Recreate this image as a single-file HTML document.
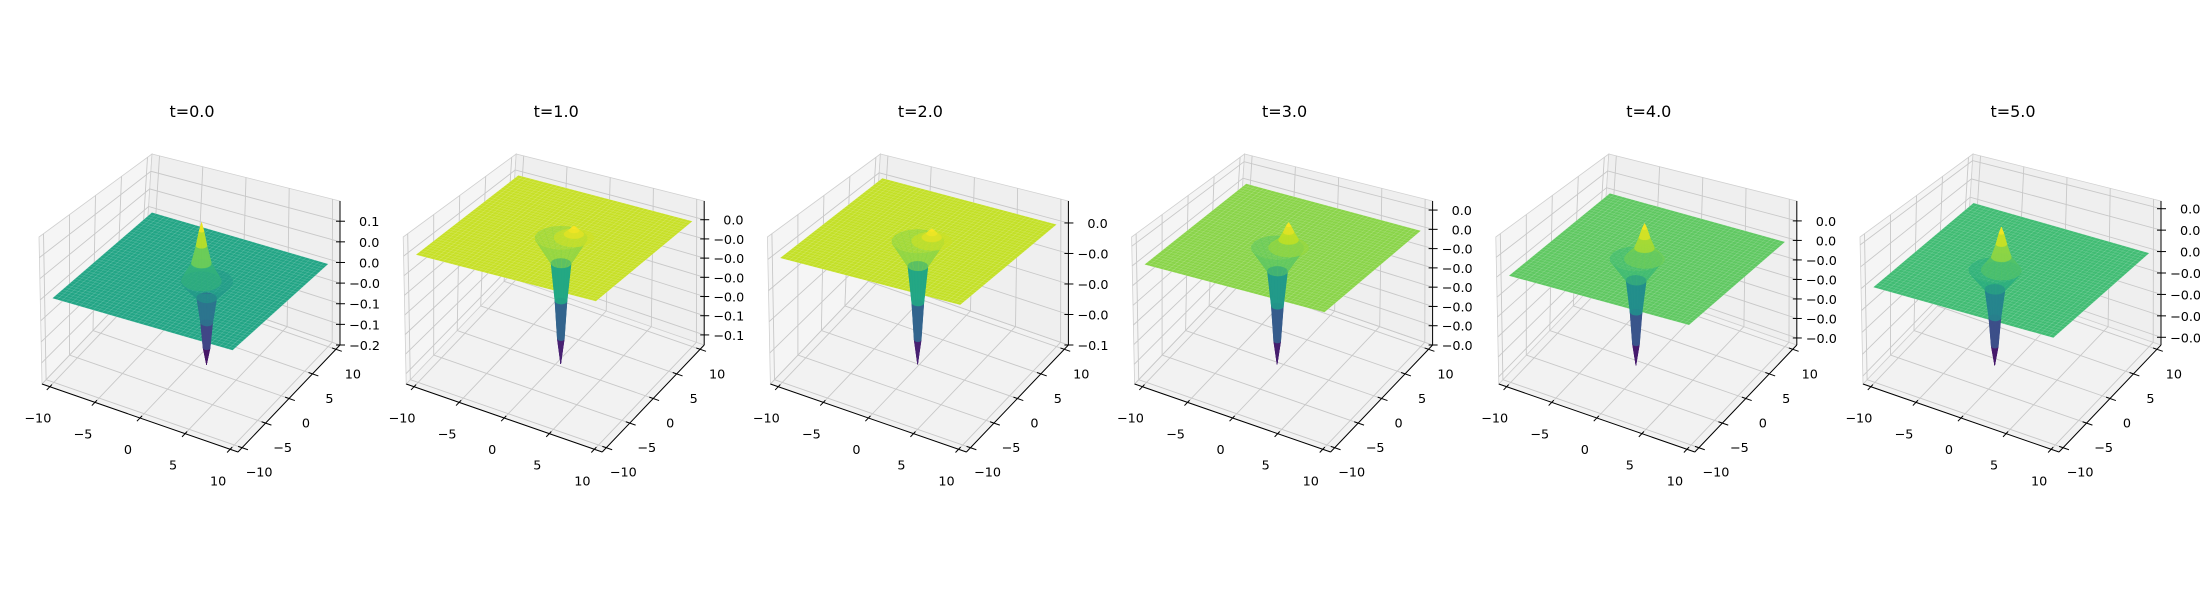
<!DOCTYPE html>
<html><head><meta charset="utf-8"><style>
html,body{margin:0;padding:0;background:#fff;}
svg{display:block;font-family:"DejaVu Sans","Liberation Sans",sans-serif;}
</style></head>
<body>
<svg id="fig" width="2200" height="600" viewBox="0 0 2200 600" xmlns="http://www.w3.org/2000/svg">
<rect x="0" y="0" width="2200" height="600" fill="#fff"/>
</svg>
<script>
const times=[0,1,2,3,4,5];
const zMin=[-0.2,-0.1305,-0.1,-0.06,-0.0268,-0.0109];
const zMax=[0.149,0.0195,0.018,0.0147,0.0101,0.0059];
const zTicks=[[0.1,0.05,0,-0.05,-0.1,-0.15,-0.2],[0,-0.02,-0.04,-0.06,-0.08,-0.1,-0.12],[0,-0.025,-0.05,-0.075,-0.1],[0.01,0,-0.01,-0.02,-0.03,-0.04,-0.05,-0.06],[0.005,0,-0.005,-0.01,-0.015,-0.02,-0.025],[0.005,0.0025,0,-0.0025,-0.005,-0.0075,-0.01]];
const zTickLabels=[["0.10","0.05","0.00","−0.05","−0.10","−0.15","−0.20"],["0.00","−0.02","−0.04","−0.06","−0.08","−0.10","−0.12"],["0.000","−0.025","−0.050","−0.075","−0.100"],["0.01","0.00","−0.01","−0.02","−0.03","−0.04","−0.05","−0.06"],["0.005","0.000","−0.005","−0.010","−0.015","−0.020","−0.025"],["0.0050","0.0025","0.0000","−0.0025","−0.0050","−0.0075","−0.0100"]];
const xyTicks=[-10,-5,0,5,10];
const xyTickLabels=["−10","−5","0","5","10"];
const planeZ=[0,0,0,0,0,0];
const peakZ=[0.14,0.012,0.01,0.013,0.009,0.005];
const troughZ=[-0.2,-0.13,-0.1,-0.06,-0.027,-0.011];
const troughX=[1.3,0.46,-0.15,-0.54,-1.0,-1.45];
const troughY=[0.8,0.29,-0.1,-0.34,-0.62,-0.9];
const peakX=[0.84,1.53,1.0,0.38,-0.31,-0.92];
const peakY=[0.53,0.96,0.62,0.24,-0.19,-0.58];

const NS="http://www.w3.org/2000/svg";
const fig=document.getElementById('fig');
const M=0.04;
const CB={L:[-148,384],F:[48,452],R:[150,345],B:[-46,277]};
const CT={L:[-151,237],F:[45,285],R:[150,201],B:[-38,154]};
const VIR=["#440154","#482475","#414487","#355f8d","#2a788e","#21918c","#22a884","#44bf70","#7ad151","#bddf26","#fde725"];
function hx(c){return [parseInt(c.slice(1,3),16),parseInt(c.slice(3,5),16),parseInt(c.slice(5,7),16)];}
function viridis(t){t=Math.max(0,Math.min(1,t));const s=t*10,i=Math.min(9,Math.floor(s)),f=s-i;const a=hx(VIR[i]),b=hx(VIR[i+1]);return 'rgb('+a.map((v,k)=>Math.round(v+(b[k]-v)*f)).join(',')+')';}
function mk(tag,attrs,parent){const e=document.createElementNS(NS,tag);for(const k in attrs)e.setAttribute(k,attrs[k]);(parent||fig).appendChild(e);return e;}
function bil(C,u,v){return [(1-u)*(1-v)*C.L[0]+u*(1-v)*C.F[0]+u*v*C.R[0]+(1-u)*v*C.B[0],(1-u)*(1-v)*C.L[1]+u*(1-v)*C.F[1]+u*v*C.R[1]+(1-u)*v*C.B[1]];}
function P(tc,u,v,w){const b=bil(CB,u,v),t=bil(CT,u,v);return [tc+b[0]+(t[0]-b[0])*w,b[1]+(t[1]-b[1])*w];}
function pts(a){return a.map(p=>p[0].toFixed(1)+','+p[1].toFixed(1)).join(' ');}

times.forEach((tm,i)=>{
  const left=15+364.2*i, tc=left+175;
  const zmn=zMin[i], zmx=zMax[i];
  const uOf=x=>M+(x+10)/20*(1-2*M);
  const wOf=z=>(z-zmn)/(zmx-zmn);
  const D=(x,y,z)=>P(tc,uOf(x),uOf(y),wOf(z));
  const g=mk('g',{});
  
  
  const bg=mk('rect',{x:left,y:0,width:364.2,height:600,fill:'#fff'},g);
  
  
  const tt=mk('text',{x:tc+2,y:117,'text-anchor':'middle','font-size':16,fill:'#000'},g);
  tt.textContent='t='+tm.toFixed(1);
  
  
  const fl=mk('polygon',{points:pts([P(tc,0,0,0),P(tc,1,0,0),P(tc,1,1,0),P(tc,0,1,0)]),fill:'#f2f2f2',stroke:'#d0d0d0','stroke-width':0.8},g);
  
  
  const lw=mk('polygon',{points:pts([P(tc,0,0,0),P(tc,0,1,0),P(tc,0,1,1),P(tc,0,0,1)]),fill:'#f5f5f5',stroke:'#d0d0d0','stroke-width':0.8},g);
  
  
  const bw=mk('polygon',{points:pts([P(tc,0,1,0),P(tc,1,1,0),P(tc,1,1,1),P(tc,0,1,1)]),fill:'#efefef',stroke:'#d0d0d0','stroke-width':0.8},g);
  
  
  const gc='#c8c8c8';
  xyTicks.forEach(t=>{const u=uOf(t);
    mk('polyline',{points:pts([P(tc,u,0,0),P(tc,u,1,0),P(tc,u,1,1)]),fill:'none',stroke:gc,'stroke-width':0.9},g);
    mk('polyline',{points:pts([P(tc,1,u,0),P(tc,0,u,0),P(tc,0,u,1)]),fill:'none',stroke:gc,'stroke-width':0.9},g);
  });
  zTicks[i].forEach(z=>{const w=wOf(z);
    mk('polyline',{points:pts([P(tc,0,0,w),P(tc,0,1,w),P(tc,1,1,w)]),fill:'none',stroke:gc,'stroke-width':0.9},g);
  });
  const xa=mk('line',{x1:P(tc,0,0,0)[0],y1:P(tc,0,0,0)[1],x2:P(tc,1,0,0)[0],y2:P(tc,1,0,0)[1],stroke:'#000','stroke-width':1},g);
  
  
  const ya=mk('line',{x1:P(tc,1,0,0)[0],y1:P(tc,1,0,0)[1],x2:P(tc,1,1,0)[0],y2:P(tc,1,1,0)[1],stroke:'#000','stroke-width':1},g);
  
  
  const za=mk('line',{x1:P(tc,1,1,0)[0],y1:P(tc,1,1,0)[1],x2:P(tc,1,1,1)[0],y2:P(tc,1,1,1)[1],stroke:'#000','stroke-width':1},g);
  
  
  xyTicks.forEach((t,k)=>{const u=uOf(t);
    const a=P(tc,u,0.02,0),b=P(tc,u,-0.03,0);
    mk('line',{x1:a[0],y1:a[1],x2:b[0],y2:b[1],stroke:'#000','stroke-width':1},g);
    const p=P(tc,u,0,0);
    const lx=mk('text',{x:p[0]-12,y:p[1]+36,'text-anchor':'middle','font-size':12.8,fill:'#000'},g);
    lx.textContent=xyTickLabels[k];
    
    
    const c=P(tc,0.98,u,0),d=P(tc,1.03,u,0);
    mk('line',{x1:c[0],y1:c[1],x2:d[0],y2:d[1],stroke:'#000','stroke-width':1},g);
    const q=P(tc,1,u,0);
    const ly=mk('text',{x:q[0]+17,y:q[1]+29,'text-anchor':'middle','font-size':12.8,fill:'#000'},g);
    ly.textContent=xyTickLabels[k];
    
    
  });
  zTicks[i].forEach((z,k)=>{const p=P(tc,1,1,wOf(z));
    mk('line',{x1:p[0]-4,y1:p[1],x2:p[0]+5,y2:p[1],stroke:'#000','stroke-width':1},g);
    const lab=zTickLabels[i][k];
    const lz=mk('text',{x:tc+(lab[0]==='−'?159:169),y:p[1]+5,'font-size':12.8,fill:'#000'},g);
    lz.textContent=lab;
    
    
  });
  const zlo=troughZ[i], zhi=peakZ[i];
  const col=z=>viridis((z-zlo)/(zhi-zlo));
  const pz=planeZ[i];
  const pl=mk('polygon',{points:pts([D(-10,-10,pz),D(10,-10,pz),D(10,10,pz),D(-10,10,pz)]),fill:col(pz)},g);
  
  
  const mesh=mk('g',{stroke:'#ffffff','stroke-opacity':0.18,'stroke-width':0.6},g);
  for(let k=0;k<=40;k++){const s=-10+k*0.5;
    const a=D(s,-10,pz),b=D(s,10,pz),c=D(-10,s,pz),d=D(10,s,pz);
    mk('line',{x1:a[0],y1:a[1],x2:b[0],y2:b[1]},mesh);
    mk('line',{x1:c[0],y1:c[1],x2:d[0],y2:d[1]},mesh);}
  function cone(cx,cy,zEnd,radii,fracs,ops,name){
    const N=18, quads=[];
    for(let r=0;r<radii.length-1;r++){
      for(let k=0;k<N;k++){
        const a1=k/N*2*Math.PI,a2=(k+1)/N*2*Math.PI;
        const z1=pz+(zEnd-pz)*fracs[r], z2=pz+(zEnd-pz)*fracs[r+1];
        const q=[[cx+radii[r]*Math.cos(a1),cy+radii[r]*Math.sin(a1),z1],[cx+radii[r]*Math.cos(a2),cy+radii[r]*Math.sin(a2),z1],[cx+radii[r+1]*Math.cos(a2),cy+radii[r+1]*Math.sin(a2),z2],[cx+radii[r+1]*Math.cos(a1),cy+radii[r+1]*Math.sin(a1),z2]];
        const mx=q.reduce((s,p)=>s+p[0],0)/4,my=q.reduce((s,p)=>s+p[1],0)/4,mz=q.reduce((s,p)=>s+p[2],0)/4;
        quads.push({q,depth:0.5*mx-0.866*my,z:mz,op:ops[r]});
      }
    }
    quads.sort((a,b)=>a.depth-b.depth);
    const cg=mk('g',{},g);
    
    
    quads.forEach(o=>{const c=col(o.z);mk('polygon',{points:pts(o.q.map(p=>D(p[0],p[1],p[2]))),fill:c,stroke:c,'stroke-width':0.3,'fill-opacity':o.op,'stroke-opacity':o.op},cg);});
  }
  cone(troughX[i],troughY[i],troughZ[i],[2.6,1.0,0.6,0.35,0],[0,0.2,0.5,0.8,1],[0.5,0.9,1,1],'surface-trough');
  cone(peakX[i],peakY[i],peakZ[i],[2.0,1.0,0.55,0.25,0],[0,0.3,0.6,0.85,1],[0.6,0.95,1,1],'surface-peak');
});
</script>
</body></html>
